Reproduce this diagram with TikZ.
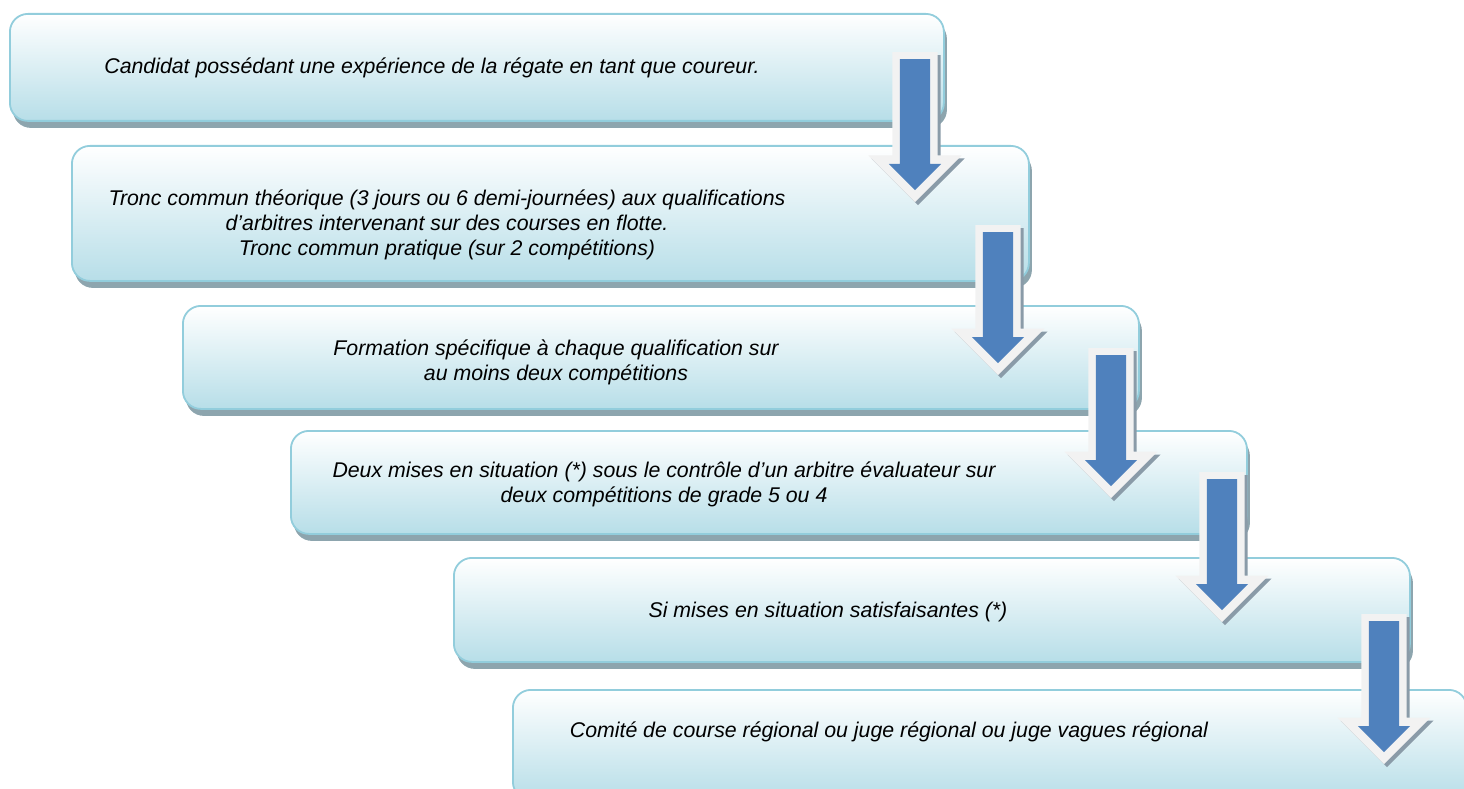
\documentclass[tikz,border=0pt]{standalone}
\usepackage{fontspec}
\setmainfont{Liberation Sans}
\usetikzlibrary{
    shapes.arrows,
    shadows
}

\definecolor{boxline}{HTML}{92CDDC}
\definecolor{boxmid}{HTML}{CDE8F0}
\definecolor{boxbottom}{HTML}{B7DEE8}
\definecolor{boxshadow}{HTML}{8DA5AE}
\definecolor{arrowblue}{HTML}{4F81BD}
\definecolor{rimgrey}{HTML}{F2F2F2}
\definecolor{arrowshadow}{HTML}{8A9BA8}

\tikzset{
  stage/.style={
    draw=boxline,
    line width=1.8pt,
    rounded corners=18pt,
    top color=white,
    middle color=boxmid,
    bottom color=boxbottom,
    general shadow={fill=boxshadow, shadow xshift=3pt, shadow yshift=-7pt},
    inner sep=0pt,
    anchor=north west
  },
  stagetext/.style={
    align=center,
    inner sep=0pt,
    font=\fontsize{21.3}{25}\selectfont\itshape
  },
  arrowrim/.style={
    single arrow,
    rotate=-90,
    anchor=tail,
    fill=rimgrey,
    inner xsep=0pt,
    inner ysep=22.5pt,
    minimum height=150pt,
    single arrow head extend=24pt,
    general shadow={fill=arrowshadow, shadow xshift=3pt, shadow yshift=-3pt}
  },
  arrowcore/.style={
    single arrow,
    rotate=-90,
    anchor=tail,
    fill=arrowblue,
    inner xsep=0pt,
    inner ysep=15pt,
    minimum height=131pt,
    single arrow head extend=11pt
  }
}

\begin{document}
\begin{tikzpicture}[x=1pt, y=-1pt]

  \useasboundingbox (0,0) rectangle (1464,789);
  \clip (0,0) rectangle (1464,789);

  % boxes {{{
  \node[stage, minimum width=934pt, minimum height=107pt] (box1) at (9,13) {};
  \node[stage, minimum width=957pt, minimum height=135pt] (box2) at (71,145) {};
  \node[stage, minimum width=956pt, minimum height=103pt] (box3) at (182,305) {};
  \node[stage, minimum width=956pt, minimum height=103pt] (box4) at (290,430) {};
  \node[stage, minimum width=956pt, minimum height=104pt] (box5) at (453,557) {};
  \node[stage, minimum width=954pt, minimum height=110pt] (box6) at (512,689) {};
  % }}}

  % texts {{{
  \node[stagetext] (text1) at (432,68)
    {Candidat possédant une expérience de la régate en tant que coureur.};
  \node[stagetext] (text2) at (447,225)
    {Tronc commun théorique (3 jours ou 6 demi-journées) aux qualifications\\
     d’arbitres intervenant sur des courses en flotte.\\
     Tronc commun pratique (sur 2 compétitions)};
  \node[stagetext] (text3) at (556,362)
    {Formation spécifique à chaque qualification sur\\
     au moins deux compétitions};
  \node[stagetext] (text4) at (664,484)
    {Deux mises en situation (*) sous le contrôle d’un arbitre évaluateur sur\\
     deux compétitions de grade 5 ou 4};
  \node[stagetext] (text5) at (828,612)
    {Si mises en situation satisfaisantes (*)};
  \node[stagetext] (text6) at (889,732)
    {Comité de course régional ou juge régional ou juge vagues régional};
  % }}}

  % arrows {{{
  \node[arrowrim] (arrow1) at (915,52) {};
  \node[arrowcore] (core1) at ([yshift=-7pt]arrow1.tail) {};
  \node[arrowrim] (arrow2) at (998,225) {};
  \node[arrowcore] (core2) at ([yshift=-7pt]arrow2.tail) {};
  \node[arrowrim] (arrow3) at (1111,348) {};
  \node[arrowcore] (core3) at ([yshift=-7pt]arrow3.tail) {};
  \node[arrowrim] (arrow4) at (1222,472) {};
  \node[arrowcore] (core4) at ([yshift=-7pt]arrow4.tail) {};
  \node[arrowrim] (arrow5) at (1384,614) {};
  \node[arrowcore] (core5) at ([yshift=-7pt]arrow5.tail) {};
  % }}}

\end{tikzpicture}
\end{document}
